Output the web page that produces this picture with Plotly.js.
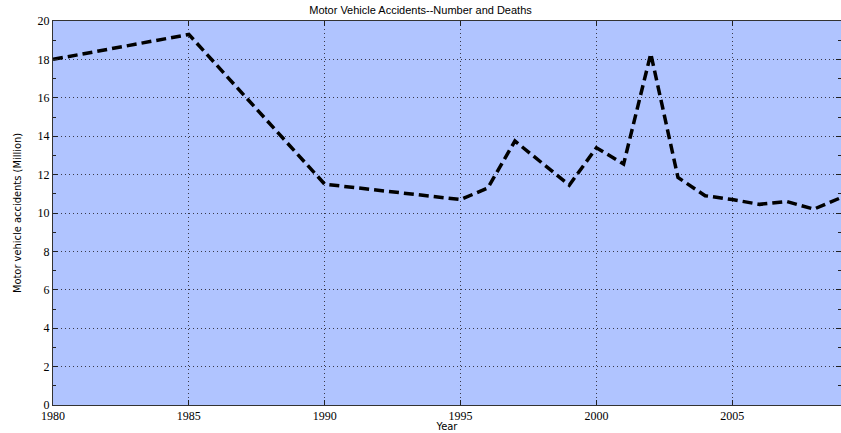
<!DOCTYPE html>
<html>
<head>
<meta charset="utf-8">
<script src="https://cdn.plot.ly/plotly-3.0.1.min.js"></script>
<style>html,body{margin:0;padding:0;background:#fff;}#chart{width:841px;height:433px;}</style>
</head>
<body>
<div id="chart"></div>
<script>
const years = [1980, 1985, 1990, 1995, 1996, 1997, 1999, 2000, 2001, 2002, 2003, 2004, 2005, 2006, 2007, 2008, 2009];
const accidents = [18.0, 19.3, 11.5, 10.7, 11.3, 13.75, 11.45, 13.4, 12.55, 18.3, 11.85, 10.9, 10.7, 10.45, 10.6, 10.2, 10.8];
const xTicks = [1980, 1985, 1990, 1995, 2000, 2005];
const yTicks = [0, 2, 4, 6, 8, 10, 12, 14, 16, 18, 20];

const trace = {
  x: years, y: accidents, type: 'scatter', mode: 'lines',
  line: {color: '#000', width: 3.5, dash: '10px,5px'},
  hoverinfo: 'skip'
};

const layout = {
  width: 841, height: 433,
  margin: {l: 53, r: 0, t: 21, b: 28, pad: 0},
  paper_bgcolor: '#ffffff',
  plot_bgcolor: 'rgb(176,196,255)',
  showlegend: false,
  title: {text: 'Motor Vehicle Accidents--Number and Deaths', font: {family: 'Liberation Sans, Arial', size: 11, color: '#000'}, x: 0.5, xanchor: 'center', y: 0.985, yanchor: 'top'},
  xaxis: {
    range: [1980, 2009], tickvals: xTicks, ticktext: xTicks.map(String),
    ticks: 'inside', ticklen: 5, tickcolor: '#222', mirror: 'ticks',
    showline: true, linecolor: '#333', linewidth: 1,
    showgrid: true, gridcolor: '#3a3a4a', griddash: '1px,3px', gridwidth: 1,
    zeroline: false,
    tickfont: {family: 'Liberation Serif, serif', size: 12, color: '#000'},
    title: {text: 'Year', font: {family: 'DejaVu Sans Condensed, Liberation Sans Narrow, sans-serif', size: 11, color: '#000'}, standoff: 1}
  },
  yaxis: {
    range: [0, 20], tickvals: yTicks, ticktext: yTicks.map(String),
    ticks: 'inside', ticklen: 5, tickcolor: '#222', mirror: 'ticks',
    showline: true, linecolor: '#333', linewidth: 1,
    showgrid: true, gridcolor: '#3a3a4a', griddash: '1px,3px', gridwidth: 1,
    zeroline: false,
    minor: {dtick: 1, tick0: 0, ticks: 'inside', ticklen: 3, tickcolor: '#222', showgrid: false},
    tickfont: {family: 'Liberation Serif, serif', size: 12, color: '#000'},
    title: {text: 'Motor vehicle accidents (Million)', font: {family: 'DejaVu Sans Condensed, Liberation Sans Narrow, sans-serif', size: 11, color: '#000'}, standoff: 13}
  }
};

Plotly.newPlot('chart', [trace], layout, {displayModeBar: false, staticPlot: true});
</script>
</body>
</html>
